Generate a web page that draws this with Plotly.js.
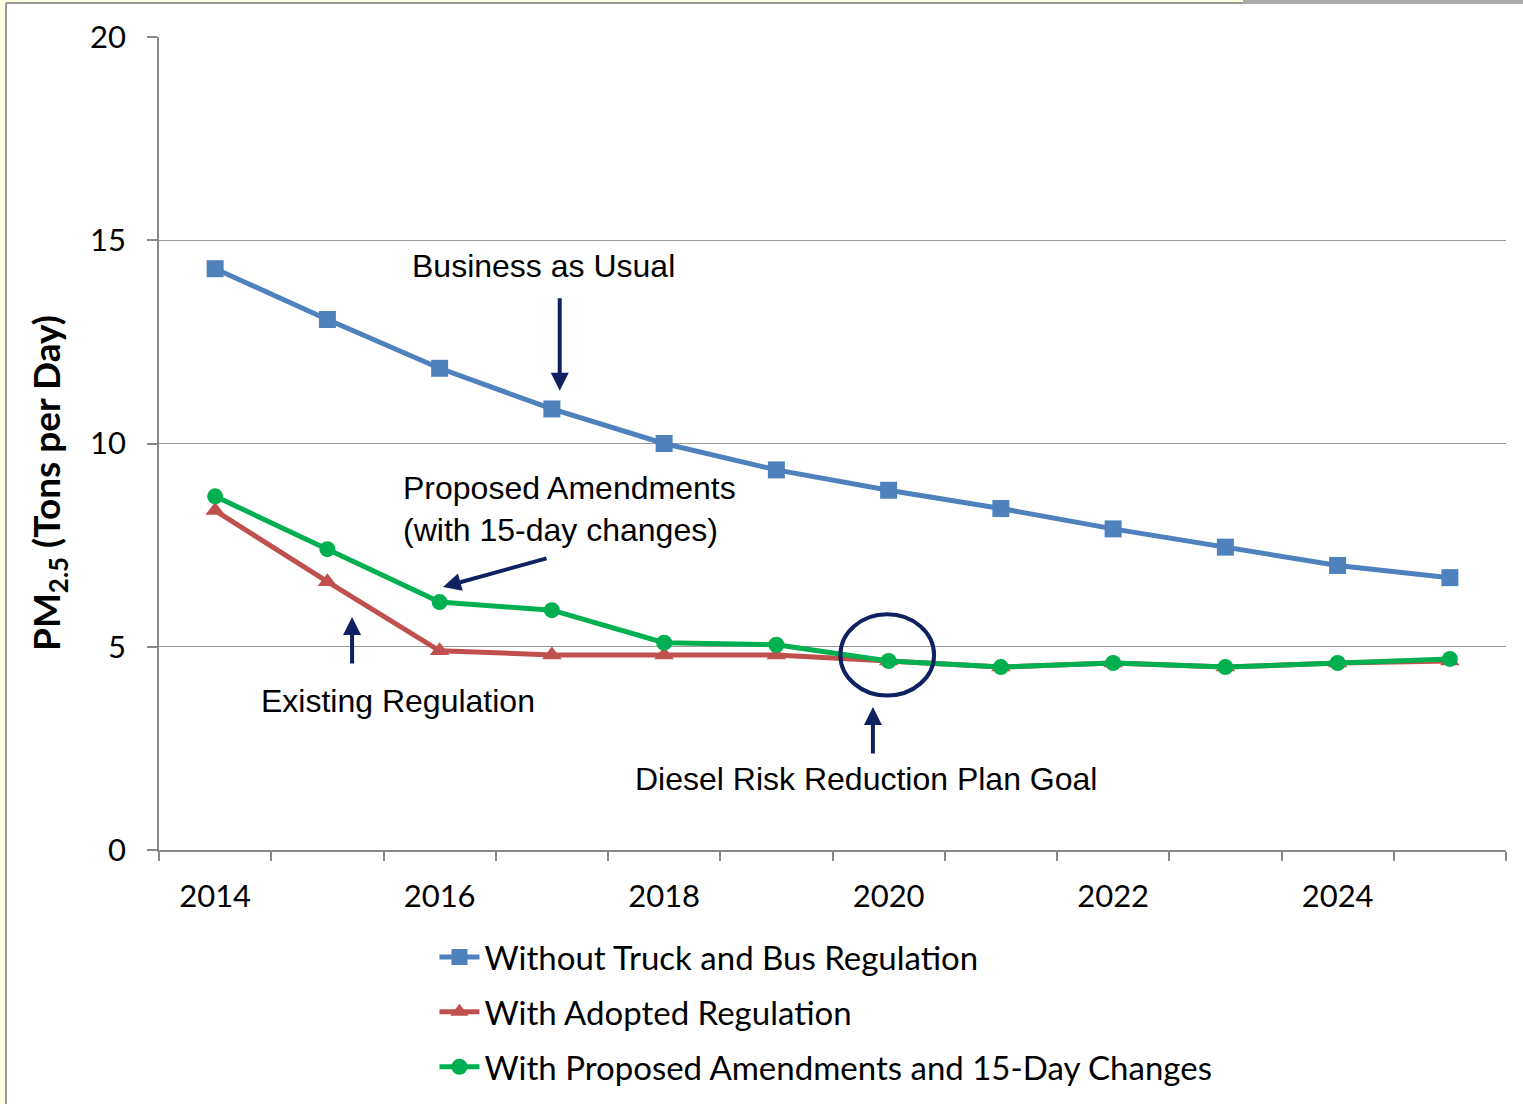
<!DOCTYPE html>
<html>
<head>
<meta charset="utf-8">
<script src="https://cdn.plot.ly/plotly-3.0.1.min.js"></script>
<style>
  html, body { margin: 0; padding: 0; background: #fff; }
  #plotArea { width: 1523px; height: 1104px; }
</style>
</head>
<body>
<div id="plotArea"></div>
<script>
// years on the x axis
var years = [2014, 2015, 2016, 2017, 2018, 2019, 2020, 2021, 2022, 2023, 2024, 2025];

// PM2.5 tons per day
var withoutReg = [14.3, 13.05, 11.85, 10.85, 10.0, 9.35, 8.85, 8.4, 7.9, 7.45, 7.0, 6.7];
var adoptedReg = [8.35, 6.6, 4.9, 4.8, 4.8, 4.8, 4.65, 4.5, 4.6, 4.5, 4.6, 4.65];
var proposedReg = [8.7, 7.4, 6.1, 5.9, 5.1, 5.05, 4.65, 4.5, 4.6, 4.5, 4.6, 4.7];

var tickYears = [2014, 2016, 2018, 2020, 2022, 2024];

var calibri = "Lato, 'Open Sans', sans-serif";
var arial = "'Liberation Sans', Arial, sans-serif";
var navy = "#0f2160";

var trace1 = {
    x: years, y: withoutReg,
    name: "Without Truck and Bus Regulation",
    mode: "lines+markers", type: "scatter",
    line: {color: "#4f81bd", width: 5},
    marker: {symbol: "square", size: 17, color: "#4f81bd"},
    legendgroup: "a"
};
var trace2 = {
    x: years, y: adoptedReg,
    name: "With Adopted Regulation",
    mode: "lines+markers", type: "scatter",
    line: {color: "#c0504d", width: 5},
    marker: {symbol: "triangle-up", size: 17, color: "#c0504d"},
    legendgroup: "b"
};
var trace3 = {
    x: years, y: proposedReg,
    name: "With Proposed Amendments and 15-Day Changes",
    mode: "lines+markers", type: "scatter",
    line: {color: "#00b050", width: 5},
    marker: {symbol: "circle", size: 16, color: "#00b050"},
    legendgroup: "c"
};

var data = [trace1, trace2, trace3];

// text labels, placed in data units
function label(txt, x, y) {
    return {
        text: txt, x: x, y: y, xref: "x", yref: "y",
        xanchor: "left", yanchor: "middle", align: "left",
        showarrow: false,
        font: {family: arial, size: 32, color: "#000"}
    };
}
function arrow(x, y, ax, ay) {
    return {
        text: "", x: x, y: y, xref: "x", yref: "y",
        ax: ax, ay: ay, showarrow: true,
        arrowhead: 2, arrowsize: 0.9, arrowwidth: 4, arrowcolor: navy
    };
}

var layout = {
    width: 1523, height: 1104,
    margin: {l: 159, r: 17, t: 37, b: 254, autoexpand: false},
    paper_bgcolor: "#fff", plot_bgcolor: "#fff",
    showlegend: true,
    legend: {
        xref: "paper", yref: "container",
        x: 0.2045, y: (1104 - 929) / 1104, xanchor: "left", yanchor: "top",
        font: {family: calibri, size: 33, color: "#000"},
        tracegroupgap: 9, itemwidth: 40,
        bgcolor: "rgba(0,0,0,0)"
    },
    xaxis: {
        range: [2013.5, 2025.5],
        tickvals: tickYears,
        ticks: "",
        showgrid: false, zeroline: false,
        showline: true, linecolor: "#888", linewidth: 1.5,
        tickfont: {family: calibri, size: 31, color: "#000"},
        ticklabelstandoff: 18,
        minor: {tick0: 2013.5, dtick: 1, ticks: "outside", ticklen: 9, tickcolor: "#888", tickwidth: 1.5, showgrid: false}
    },
    yaxis: {
        range: [0, 20],
        dtick: 5,
        ticks: "outside", ticklen: 10, tickcolor: "#888", tickwidth: 1.5,
        showgrid: true, gridcolor: "#999", gridwidth: 1,
        zeroline: false,
        showline: true, linecolor: "#888", linewidth: 1.5,
        tickfont: {family: calibri, size: 31, color: "#000"},
        ticklabelstandoff: 15
    },
    annotations: [
        // y axis title, sits a little below the middle like the original
        {text: "<b>PM<sub>2.5</sub> (Tons per Day)</b>",
         xref: "paper", yref: "paper", x: -111/1347, y: (850 - 483) / 813,
         xanchor: "center", yanchor: "middle", textangle: -90, showarrow: false,
         font: {family: calibri, size: 37, color: "#000"}},
        label("Business as Usual", 2015.74, 14.37),
        label("Proposed Amendments<br>(with 15-day changes)", 2015.66, 8.4),
        label("Existing Regulation", 2014.39, 3.67),
        label("Diesel Risk Reduction Plan Goal", 2017.72, 1.75),
        arrow(2017.07, 11.3, 0, -94),
        arrow(2016.03, 6.47, 105, -29),
        arrow(2015.22, 5.73, 0, 48),
        arrow(2019.86, 3.52, 0, 48)
    ],
    shapes: [
        // goal marker ring
        {type: "circle", xref: "x", yref: "y",
         x0: 2019.57, x1: 2020.405, y0: 3.8, y1: 5.8,
         line: {color: navy, width: 4}},
        // slide frame
        {type: "rect", xref: "paper", yref: "paper",
         x0: -159/1347, x1: -154/1347, y0: -254/813, y1: 850/813,
         fillcolor: "#ffffe0", line: {width: 0}, layer: "below"},
        {type: "line", xref: "paper", yref: "paper",
         x0: -153/1347, x1: -153/1347, y0: -254/813, y1: 847/813,
         line: {color: "#999", width: 2}},
        {type: "line", xref: "paper", yref: "paper",
         x0: -153/1347, x1: 1364/1347, y0: 847/813, y1: 847/813,
         line: {color: "#999", width: 2}},
        {type: "rect", xref: "paper", yref: "paper",
         x0: -159/1347, x1: 1364/1347, y0: 848/813, y1: 850/813,
         fillcolor: "#ffffe0", line: {width: 0}},
        {type: "rect", xref: "paper", yref: "paper",
         x0: 1084/1347, x1: 1364/1347, y0: 846/813, y1: 850/813,
         fillcolor: "#aaa", line: {width: 0}}
    ]
};

Plotly.newPlot("plotArea", data, layout, {displayModeBar: false});
</script>
</body>
</html>
